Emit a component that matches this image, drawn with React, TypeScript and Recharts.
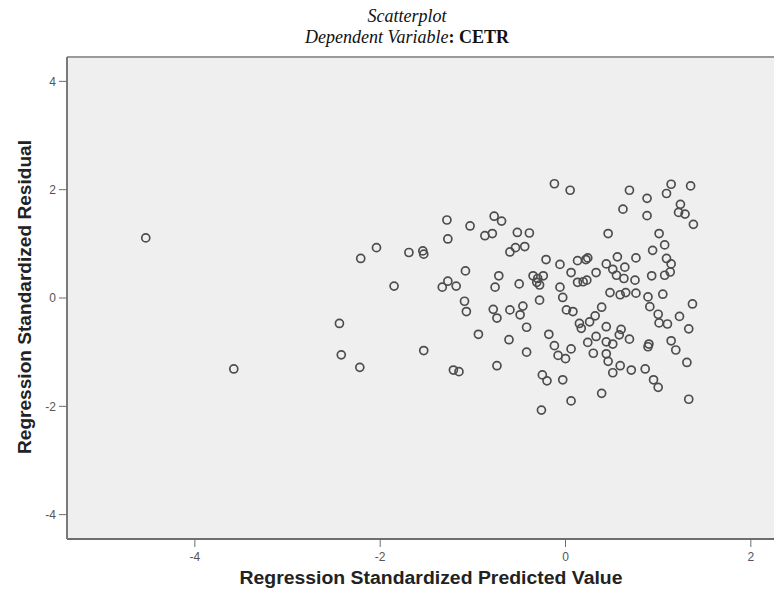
import { CartesianGrid, ReferenceLine, Scatter, ScatterChart, XAxis, YAxis } from "recharts";

// Regression Standardized Predicted Value (x) / Standardized Residual (y)
const predicted = [
  -4.53, -3.58, -1.28, -1.03, -1.27, -2.04, -2.21, -1.69, -1.54, -1.53, -1.08, -1.27,
  -1.33, -1.18, -1.85, -1.09, -1.07, -0.94, -2.44, -2.42, -2.22, -1.53, -1.21, -1.15,
  -0.12, 0.05, 0.46, -0.77, -0.69, -0.87, -0.79, -0.52, -0.39, -0.6, -0.54, -0.44,
  -0.21, -0.06, 0.13, 0.22, 0.24, 0.44, -0.72, -0.76, -0.5, -0.35, -0.3, -0.28,
  -0.24, -0.31, 0.06, 0.13, 0.19, 0.23, 0.33, -0.06, -0.03, -0.28, -0.78, -0.6,
  -0.46, -0.49, 0.01, 0.08, 0.32, 0.39,
  -0.74, 0.15, 0.17, 0.26, -0.42, -0.61, -0.18, -0.12, 0.06, -0.08, 0.0, 0.24,
  0.33, 0.44, 0.44, 0.3, 0.44, 0.46, -0.42, -0.74, -0.25, -0.2, -0.03, 0.39,
  0.06, -0.26,
  0.69, 1.14, 1.35, 1.09, 0.88, 0.62, 0.88, 1.24, 1.22, 1.29, 1.38, 1.01,
  1.07, 0.94, 0.56, 0.76, 1.09, 1.14, 0.51, 0.64, 0.55, 0.63, 0.75, 0.93,
  1.07, 1.13, 0.48, 0.59, 0.65, 0.76, 0.89, 1.05, 0.91, 1.0, 1.23, 1.37,
  1.01, 1.1, 1.33, 0.6, 0.58, 0.69, 0.51, 0.9, 0.89, 1.14, 1.19, 0.59,
  0.51, 0.71, 0.86, 0.95, 1.0, 1.31, 1.33
];

const residual = [
  1.11, -1.31, 1.44, 1.33, 1.09, 0.93, 0.73, 0.84, 0.87, 0.81, 0.5, 0.31,
  0.2, 0.22, 0.22, -0.06, -0.25, -0.67, -0.47, -1.05, -1.28, -0.97, -1.33, -1.36,
  2.11, 1.99, 1.19, 1.51, 1.42, 1.15, 1.19, 1.21, 1.2, 0.85, 0.93, 0.95,
  0.71, 0.62, 0.69, 0.71, 0.74, 0.63, 0.41, 0.2, 0.26, 0.41, 0.36, 0.24,
  0.41, 0.29, 0.47, 0.29, 0.3, 0.33, 0.47, 0.2, 0.01, -0.04, -0.21, -0.22,
  -0.15, -0.31, -0.22, -0.25, -0.33, -0.17,
  -0.37, -0.47, -0.56, -0.44, -0.54, -0.77, -0.67, -0.88, -0.94, -1.06, -1.12, -0.82,
  -0.71, -0.53, -0.81, -1.02, -1.03, -1.17, -1.0, -1.25, -1.42, -1.53, -1.51, -1.76,
  -1.9, -2.07,
  1.99, 2.1, 2.07, 1.93, 1.84, 1.64, 1.52, 1.73, 1.58, 1.55, 1.36, 1.19,
  0.98, 0.88, 0.76, 0.74, 0.73, 0.63, 0.53, 0.57, 0.42, 0.36, 0.33, 0.41,
  0.42, 0.48, 0.1, 0.06, 0.1, 0.09, 0.02, 0.07, -0.16, -0.3, -0.34, -0.11,
  -0.46, -0.48, -0.57, -0.58, -0.68, -0.76, -0.85, -0.85, -0.9, -0.79, -0.96, -1.25,
  -1.38, -1.33, -1.31, -1.51, -1.65, -1.19, -1.87
];

const xTicks = [-4, -2, 0, 2];
const yTicks = [-4, -2, 0, 2, 4];

const data = predicted.map((x, i) => ({ x, y: residual[i] }));

const sans = "'Liberation Sans', Arial, sans-serif";
const serif = "'Liberation Serif', 'Times New Roman', serif";
const labelStyle = { fontFamily: sans, fontWeight: "bold", fontSize: 18, fill: "#222" } as const;

function RingDot(props: any) {
  const { cx, cy } = props;
  if (cx == null || cy == null) return <g />;
  return <circle cx={cx} cy={cy} r={4} fill="none" stroke="#4d4d4d" strokeWidth={1.7} />;
}

function YLabel() {
  return (
    <text
      x={31}
      y={297}
      transform="rotate(-90 31 297)"
      textAnchor="middle"
      textLength={314}
      lengthAdjust="spacingAndGlyphs"
      style={labelStyle}
    >
      Regression Standardized Residual
    </text>
  );
}

function XLabel() {
  return (
    <text x={431} y={584} textAnchor="middle" textLength={383} lengthAdjust="spacingAndGlyphs" style={labelStyle}>
      Regression Standardized Predicted Value
    </text>
  );
}

export default function App() {
  return (
    <div style={{ position: "absolute", left: 0, top: 0, width: 774, height: 599, background: "#fff" }}>
      <div
        style={{
          position: "absolute",
          left: 0,
          width: 814,
          top: 6,
          textAlign: "center",
          fontFamily: serif,
          fontSize: 18,
          lineHeight: "21px",
          color: "#111"
        }}
      >
        <div style={{ fontStyle: "italic" }}>Scatterplot</div>
        <div>
          <span style={{ fontStyle: "italic" }}>Dependent Variable</span>
          <span style={{ fontWeight: "bold" }}>: CETR</span>
        </div>
      </div>
      <div style={{ position: "absolute", left: 0, top: 0 }}>
        <ScatterChart width={774} height={599} margin={{ top: 57, right: 0, bottom: 0, left: 0 }}>
          <CartesianGrid horizontal={false} vertical={false} fill="#efefef" />
          <XAxis
            type="number"
            dataKey="x"
            domain={[-5.38, 2.25]}
            ticks={xTicks}
            allowDataOverflow
            height={60}
            axisLine={{ stroke: "#6e6e6e", strokeWidth: 2 }}
            tickLine={{ stroke: "#6e6e6e" }}
            tickSize={8}
            tickMargin={5}
            tick={{ fill: "#555", fontSize: 12, fontFamily: sans }}
            label={XLabel}
          />
          <YAxis
            type="number"
            dataKey="y"
            domain={[-4.45, 4.45]}
            ticks={yTicks}
            allowDataOverflow
            width={67}
            axisLine={{ stroke: "#7a7a7a", strokeWidth: 2 }}
            tickLine={{ stroke: "#6e6e6e" }}
            tickSize={8}
            tickMargin={3}
            tick={{ fill: "#555", fontSize: 12, fontFamily: sans }}
            label={YLabel}
          />
          <ReferenceLine y={4.45} stroke="#9a9a9a" strokeWidth={2} />
          <Scatter data={data} shape={RingDot} isAnimationActive={false} />
        </ScatterChart>
      </div>
    </div>
  );
}
